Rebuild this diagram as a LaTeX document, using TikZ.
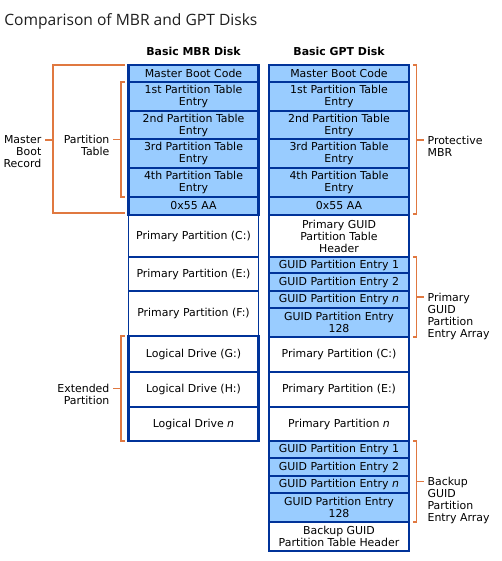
\documentclass[tikz,border=0pt]{standalone}
\usepackage{fontspec}
\setmainfont{DejaVu Sans}
\newfontfamily\titlefont{Open Sans}
\usetikzlibrary{positioning, calc}
\definecolor{diskblue}{RGB}{0, 51, 153}
\definecolor{cellblue}{RGB}{153, 204, 255}
\definecolor{braceorange}{RGB}{224, 120, 64}
\definecolor{titlegray}{RGB}{30, 30, 30}

\tikzset{
  cell/.style={draw=diskblue, line width=0.8pt, inner sep=0pt, outer sep=0pt, anchor=north,
    align=center, font=\fontsize{8.2}{9}\selectfont},
  bluecell/.style={cell, fill=cellblue},
  whitecell/.style={cell, fill=white},
  mbrcol/.style={minimum width=130*0.75pt},
  gptcol/.style={minimum width=140*0.75pt},
  rows/.style={minimum height=#1*0.75pt},
  frame/.style={draw=diskblue, line width=1.9pt},
  brace/.style={draw=braceorange, line width=1.1pt},
  leftlabel/.style={anchor=north east, align=right, inner sep=2.5pt, font=\fontsize{8.2}{9}\selectfont},
  rightlabel/.style={anchor=north west, align=left, inner sep=2.5pt, font=\fontsize{8.2}{9}\selectfont},
  header/.style={anchor=base, inner sep=0pt, font=\bfseries\fontsize{8.2}{9}\selectfont}
}

\begin{document}
\begin{tikzpicture}[x=0.75pt, y=-0.75pt]
  \useasboundingbox (0,0) rectangle (502,561);

  % Title and column headers
  \node[anchor=base west, inner sep=0pt, text=titlegray, font=\titlefont\fontsize{11.7}{13}\selectfont] (title) at (4,25) {Comparison of MBR and GPT Disks};
  \node[header] (mbrhead) at (193.5,55.5) {Basic MBR Disk};
  \node[header] (gpthead) at (339,55.5) {Basic GPT Disk};

  % Basic MBR disk
  \node[bluecell, mbrcol, rows=17] (mmbc) at (193.5,65) {Master Boot Code};
  \node[bluecell, mbrcol, rows=29] (mpte1) at (193.5,82) {1st Partition Table\\Entry};
  \node[bluecell, mbrcol, rows=28] (mpte2) at (193.5,111) {2nd Partition Table\\Entry};
  \node[bluecell, mbrcol, rows=29] (mpte3) at (193.5,139) {3rd Partition Table\\Entry};
  \node[bluecell, mbrcol, rows=29] (mpte4) at (193.5,168) {4th Partition Table\\Entry};
  \node[bluecell, mbrcol, rows=18] (msig) at (193.5,197) {0x55 AA};
  \node[whitecell, mbrcol, rows=42] (mpc) at (193.5,215) {Primary Partition (C:)};
  \node[whitecell, mbrcol, rows=34] (mpe) at (193.5,257) {Primary Partition (E:)};
  \node[whitecell, mbrcol, rows=45] (mpf) at (193.5,291) {Primary Partition (F:)};
  \node[whitecell, mbrcol, rows=36] (mlg) at (193.5,336) {Logical Drive (G:)};
  \node[whitecell, mbrcol, rows=35] (mlh) at (193.5,372) {Logical Drive (H:)};
  \node[whitecell, mbrcol, rows=34] (mln) at (193.5,407) {Logical Drive \textit{n}};
  \draw[frame] (mmbc.north west) rectangle (msig.south east);
  \draw[frame] (mlg.north west) rectangle (mln.south east);

  % Basic GPT disk
  \node[bluecell, gptcol, rows=17] (gmbc) at (339,65) {Master Boot Code};
  \node[bluecell, gptcol, rows=29] (gpte1) at (339,82) {1st Partition Table\\Entry};
  \node[bluecell, gptcol, rows=28] (gpte2) at (339,111) {2nd Partition Table\\Entry};
  \node[bluecell, gptcol, rows=29] (gpte3) at (339,139) {3rd Partition Table\\Entry};
  \node[bluecell, gptcol, rows=29] (gpte4) at (339,168) {4th Partition Table\\Entry};
  \node[bluecell, gptcol, rows=18] (gsig) at (339,197) {0x55 AA};
  \node[whitecell, gptcol, rows=42] (ghdr) at (339,215) {Primary GUID\\Partition Table\\Header};
  \node[bluecell, gptcol, rows=16] (ge1) at (339,257) {GUID Partition Entry 1};
  \node[bluecell, gptcol, rows=18] (ge2) at (339,273) {GUID Partition Entry 2};
  \node[bluecell, gptcol, rows=17] (gen) at (339,291) {GUID Partition Entry \textit{n}};
  \node[bluecell, gptcol, rows=29] (ge128) at (339,308) {GUID Partition Entry\\128};
  \node[whitecell, gptcol, rows=35] (gpc) at (339,337) {Primary Partition (C:)};
  \node[whitecell, gptcol, rows=35] (gpe) at (339,372) {Primary Partition (E:)};
  \node[whitecell, gptcol, rows=34] (gpn) at (339,407) {Primary Partition \textit{n}};
  \node[bluecell, gptcol, rows=17] (gb1) at (339,441) {GUID Partition Entry 1};
  \node[bluecell, gptcol, rows=18] (gb2) at (339,458) {GUID Partition Entry 2};
  \node[bluecell, gptcol, rows=17] (gbn) at (339,476) {GUID Partition Entry \textit{n}};
  \node[bluecell, gptcol, rows=29] (gb128) at (339,493) {GUID Partition Entry\\128};
  \node[whitecell, gptcol, rows=29] (gbhdr) at (339,522) {Backup GUID\\Partition Table Header};
  \draw[frame] (gmbc.north west) rectangle (gsig.south east);

  % Master Boot Record bracket
  \draw[brace] ([xshift=-3pt]mmbc.north west) -- ++(-71.5,0) coordinate (mbrtop) |- ([xshift=-3pt,yshift=1.5pt]msig.south west);
  \coordinate (mbrmid) at ($(mbrtop)!0.5!(mbrtop |- msig.south)$);
  \draw[brace] (mbrmid) -- ++(-8,0) coordinate (mbrtick);
  \node[leftlabel] (mbrlbl) at ([yshift=5.8pt]mbrtick) {Master\\Boot\\Record};

  % Partition Table bracket
  \draw[brace] ([xshift=-3pt]mpte1.north west) -- ++(-3.5,0) coordinate (pttop) |- ([xshift=-3pt]mpte4.south west);
  \coordinate (ptmid) at ($(pttop)!0.5!(pttop |- mpte4.south)$);
  \draw[brace] (ptmid) -- ++(-8,0) coordinate (pttick);
  \node[leftlabel] (ptlbl) at ([yshift=5.8pt]pttick) {Partition\\Table};

  % Extended Partition bracket
  \draw[brace] ([xshift=-3pt]mlg.north west) -- ++(-3.5,0) coordinate (eptop) |- ([xshift=-3pt]mln.south west);
  \coordinate (epmid) at ($(eptop)!0.5!(eptop |- mln.south)$);
  \draw[brace] (epmid) -- ++(-8,0) coordinate (eptick);
  \node[leftlabel] (eplbl) at ([yshift=5.8pt]eptick) {Extended\\Partition};

  % Protective MBR bracket
  \draw[brace] ([xshift=3pt]gmbc.north east) -- ++(3.5,0) coordinate (pmtop) |- ([xshift=3pt,yshift=0.8pt]gsig.south east);
  \coordinate (pmmid) at ($(pmtop)!0.5!(pmtop |- gsig.south)$);
  \draw[brace] (pmmid) -- ++(7.5,0) coordinate (pmtick);
  \node[rightlabel] (pmlbl) at ([yshift=5.8pt]pmtick) {Protective\\MBR};

  % Primary GUID Partition Entry Array bracket
  \draw[brace] ([xshift=3pt]ge1.north east) -- ++(3.5,0) coordinate (patop) |- ([xshift=3pt]ge128.south east);
  \coordinate (pamid) at ($(patop)!0.5!(patop |- ge128.south)$);
  \draw[brace] (pamid) -- ++(7.5,0) coordinate (patick);
  \node[rightlabel] (palbl) at ([yshift=5.8pt]patick) {Primary\\GUID\\Partition\\Entry Array};

  % Backup GUID Partition Entry Array bracket
  \draw[brace] ([xshift=3pt]gb1.north east) -- ++(3.5,0) coordinate (batop) |- ([xshift=3pt]gb128.south east);
  \coordinate (bamid) at ($(batop)!0.5!(batop |- gb128.south)$);
  \draw[brace] (bamid) -- ++(7.5,0) coordinate (batick);
  \node[rightlabel] (balbl) at ([yshift=5.8pt]batick) {Backup\\GUID\\Partition\\Entry Array};
\end{tikzpicture}
\end{document}
